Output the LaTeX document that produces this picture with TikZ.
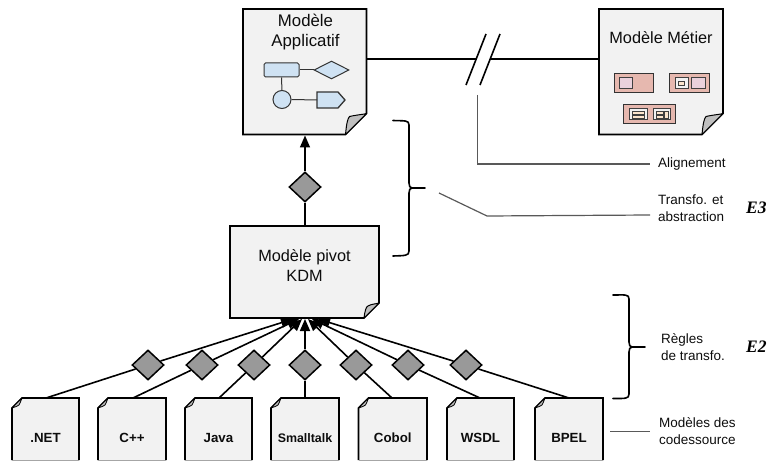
\documentclass[tikz,border=0pt]{standalone}
\usepackage{fontspec}
\setmainfont{Liberation Sans}
\newfontfamily\efont{Liberation Serif}
\usetikzlibrary{arrows.meta,shapes.geometric}
\definecolor{docfill}{HTML}{F2F2F2}
\definecolor{foldfill}{HTML}{BFBFBF}
\definecolor{bluefill}{HTML}{CFE2F3}
\definecolor{redfill}{HTML}{E6B8AF}
\definecolor{pinkfill}{HTML}{EAD1DC}
\definecolor{creamfill}{HTML}{FCE5CD}
\tikzset{
  x=1pt,y=-1pt,
  docline/.style={draw=black,fill=docfill,line width=1.7pt,line join=miter},
  foldline/.style={draw=black,fill=foldfill,line width=1pt,line join=round},
  bigtext/.style={font=\fontsize{16.3}{20}\selectfont,align=center,inner sep=0pt,text=black!95},
  srctext/.style={font=\fontsize{13.3}{16}\selectfont\bfseries,inner sep=0pt,text=black!95},
  lbl/.style={font=\fontsize{13.5}{17}\selectfont,align=left,anchor=west,inner sep=0pt,text=black!95},
  etag/.style={font=\fontsize{17.5}{20}\selectfont\efont\bfseries\itshape,anchor=west,inner sep=0pt},
  gem/.style={diamond,draw=black,fill=black!40,line width=1.5pt,minimum width=32pt,minimum height=30pt,inner sep=0pt},
  link/.style={draw=black,line width=1.6pt},
  arrowlink/.style={link,-{Triangle[length=12pt,width=10pt]}},
  brace/.style={draw=black,line width=1.6pt,line cap=round},
  leader/.style={draw=black!65,line width=1.2pt},
  icon/.style={draw=black!80,line width=1pt},
  blueicon/.style={icon,fill=bluefill},
  redicon/.style={draw=black!80,fill=redfill,line width=1pt},
  pinkicon/.style={draw=black!75,fill=pinkfill,line width=1pt},
  creamicon/.style={draw=black!75,fill=creamfill,line width=.8pt},
}
% x1 y1 x2 y2 fold : page with fold bottom-right
\newcommand{\pageBR}[5]{%
  \path[docline] (#1,#2) -- (#3,#2) -- (#3,{#4-#5}) -- ({#3-#5},#4) -- (#1,#4) -- cycle;
  \path[foldline] ({#3-#5},#4) .. controls ({#3-#5+1},{#4-#5*.5}) and ({#3-#5+2},{#4-#5*.75}) .. ({#3-#5+4},{#4-#5+3}) .. controls ({#3-8},{#4-#5+1}) and ({#3-3},{#4-#5+1}) .. (#3,{#4-#5}) -- cycle;
}
% x1 y1 x2 name text font
\newcommand{\pageTL}[6]{%
  \fill[docfill] ({#1+10},#2) -- (#3,#2) -- (#3,460) -- (#1,460) -- (#1,{#2+10}) -- cycle;
  \draw[line width=1.7pt,line join=miter] (#1,460) -- (#1,{#2+10}) -- ({#1+10},#2) -- (#3,#2) -- (#3,460);
  \draw[black!35,line width=1pt] (#1,460.5) -- (#3,460.5);
  \path[foldline,line width=.8pt] (#1,{#2+10}) .. controls ({#1+3},{#2+9}) and ({#1+6},{#2+8}) .. ({#1+7},{#2+7}) .. controls ({#1+8},{#2+5}) and ({#1+9},{#2+3}) .. ({#1+10},#2) -- cycle;
  \node[srctext,#6] (#4) at ({(#1+#3)/2},{#2+40}) {#5};
}
\begin{document}
\begin{tikzpicture}
\useasboundingbox (0,0) rectangle (767,462);
\clip (0,0) rectangle (767,462);

% ---- Upper pages
\pageBR{243}{9}{366.5}{134.5}{21}
\node[bigtext,font=\fontsize{16.8}{20}\selectfont] (appli) at (305.5,32) {Modèle\\Applicatif};
\pageBR{599}{9}{723}{134.5}{21}
\node[bigtext] (metier) at (661,37.5) {Modèle Métier};
\pageBR{230}{226}{379}{318}{15}
\node[bigtext] (kdm) at (304.5,265) {Modèle pivot\\KDM};

% anchors on the page edges
\coordinate (appliR) at (366.5,59);
\coordinate (metierL) at (599,59);
\coordinate (appliB) at (305,135.5);
\coordinate (kdmT) at (305,226);
\coordinate (breakL) at (476,59);
\coordinate (breakR) at (491,59);

% ---- Blue icons
\node[blueicon,rounded corners=1.5pt,minimum width=35pt,minimum height=14pt,inner sep=0pt] (bA) at (281.5,70) {};
\node[blueicon,diamond,minimum width=35pt,minimum height=18pt,inner sep=0pt] (bB) at (331.5,70) {};
\node[blueicon,circle,minimum size=18pt,inner sep=0pt] (bC) at (282,99.5) {};
\path[blueicon,line width=1.3pt] (317,92) -- (338,92) -- (345,100) -- (338,108) -- (317,108) -- cycle;
\coordinate (bD) at (317,100);
\draw[icon] (bA) -- (bB);
\draw[icon] (bA) -- (bC);
\draw[icon] (bC.east) -- (bD);

% ---- Red icons
\path[redicon] (614,74) rectangle (653.5,93);
\path[pinkicon] (619,78) rectangle (632,89);
\path[redicon] (669.5,74) rectangle (709,93);
\path[pinkicon,fill=docfill] (675,78) rectangle (688,89);
\path[creamicon] (678.5,81.5) rectangle (684.5,85.5);
\path[pinkicon] (691,78) rectangle (705,89);
\path[redicon] (623,105) rectangle (675,124);
\path[pinkicon,fill=docfill] (629,109) rectangle (647,120);
\path[creamicon] (632,111) rectangle (644,114);
\path[creamicon] (632,115.5) rectangle (644,118);
\path[pinkicon,fill=docfill] (653,109) rectangle (670,120);
\path[creamicon] (656,111) rectangle (663,114);
\path[creamicon] (656,115.5) rectangle (663,118);
\path[creamicon] (664.5,111) rectangle (668,118);

% ---- Alignment link with break
\draw[link] (appliR) -- (breakL);
\draw[link] (breakR) -- (metierL);
\coordinate (s1a) at (466,85);
\coordinate (s1b) at (486,34);
\coordinate (s2a) at (480,85);
\coordinate (s2b) at (500,34);
\draw[link] (s1a) -- (s1b);
\draw[link] (s2a) -- (s2b);

% ---- KDM to Applicatif
\node[gem] (gup) at (305,187) {};
\draw[link] (kdmT) -- (gup);
\draw[arrowlink] (gup) -- (appliB);

% ---- Source pages
\pageTL{12}{398}{79}{net}{.NET}{}
\pageTL{98}{398}{166}{cpp}{C++}{}
\pageTL{185}{398}{252}{java}{Java}{}
\pageTL{271}{398}{339}{small}{Smalltalk}{font=\fontsize{12.4}{15}\selectfont\bfseries}
\pageTL{358.5}{398}{427}{cobol}{Cobol}{}
\pageTL{447}{398}{514}{wsdl}{WSDL}{}
\pageTL{535}{398}{603}{bpel}{BPEL}{}

\coordinate (tNet) at (46,398);
\coordinate (tCpp) at (133,398);
\coordinate (tJava) at (219,398);
\coordinate (tSmall) at (305,398);
\coordinate (tCobol) at (392,398);
\coordinate (tWsdl) at (480,398);
\coordinate (tBpel) at (569,398);
\coordinate (kNet) at (293,319);
\coordinate (kCpp) at (299,319);
\coordinate (kJava) at (302,319);
\coordinate (kSmall) at (305,319);
\coordinate (kCobol) at (308,319);
\coordinate (kWsdl) at (312,319);
\coordinate (kBpel) at (318,319);

\foreach \src/\tgt/\gx/\gname in {tNet/kNet/148/gA,tCpp/kCpp/202/gB,tJava/kJava/254/gC,tSmall/kSmall/305/gD,tCobol/kCobol/356/gE,tWsdl/kWsdl/408/gF,tBpel/kBpel/466/gG}{
  \node[gem] (\gname) at (\gx,365) {};
  \draw[link] (\src) -- (\gname);
  \draw[arrowlink] (\gname) -- (\tgt);
}

% ---- Braces
\path[brace] (393,120.5) .. controls (405,121) and (409,120) .. (409,125) -- (409,183) .. controls (409,186) and (410,188) .. (412,188) -- (425,188);
\path[brace] (412,188) .. controls (410,188) and (409,190) .. (409,193) -- (409,251) .. controls (409,256) and (405,255.5) .. (393,256);
\path[brace] (613,295) .. controls (625,295) and (629,294) .. (629,299) -- (629,342) .. controls (629,345) and (630,347) .. (632,347) -- (645,347);
\path[brace] (632,347) .. controls (630,347) and (629,349) .. (629,352) -- (629,394) .. controls (629,399) and (625,398.5) .. (613,398.5);

% ---- Labels
\node[lbl] (lAlign) at (658,164) {Alignement};
\node[lbl] (lTransfo) at (658,208.5) {Transfo. et\\abstraction};
\node[lbl] (lRegles) at (661,347) {Règles\\de transfo.};
\node[lbl] (lModeles) at (659,431.5) {Modèles des\\codessource};
\node[etag] (e3) at (746,208) {E3};
\node[etag] (e2) at (746,347) {E2};

% ---- Leaders
\coordinate (a0) at (477.5,95);
\coordinate (a1) at (477.5,164);
\coordinate (a2) at (650,164);
\coordinate (b0) at (439,193);
\coordinate (b1) at (487,216);
\coordinate (b2) at (650,215);
\coordinate (c0) at (610,431.5);
\coordinate (c1) at (650,431.5);
\draw[leader] (a0) -- (a1) -- (a2);
\draw[leader] (b0) -- (b1) -- (b2);
\draw[leader] (c0) -- (c1);
\end{tikzpicture}
\end{document}
